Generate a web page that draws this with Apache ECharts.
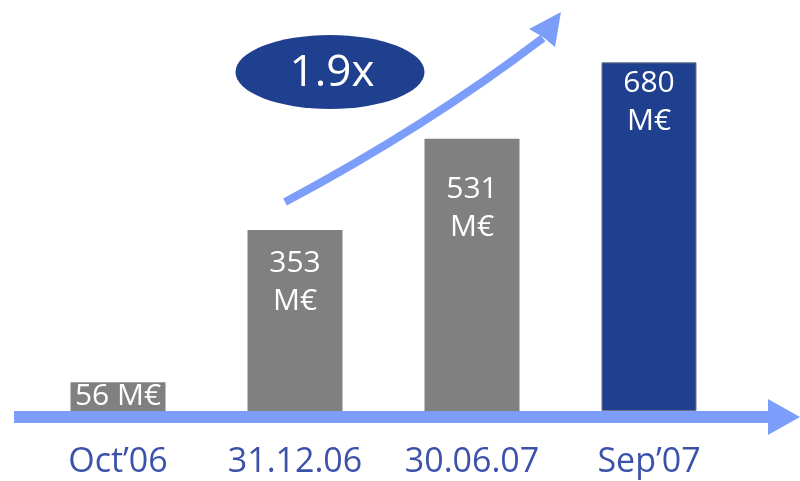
<!DOCTYPE html>
<html>
<head>
<meta charset="utf-8">
<script src="https://cdn.jsdelivr.net/npm/echarts@6/dist/echarts.min.js"></script>
<style>
  html, body { margin: 0; padding: 0; background: #ffffff; }
  #chart { width: 800px; height: 481px; }
</style>
</head>
<body>
<div id="chart"></div>
<script>
// Periods and assets (M€)
const categories = ['Oct’06', '31.12.06', '30.06.07', 'Sep’07'];
const values = [56, 353, 531, 680];
const unit = 'M€';
const growthLabel = '1.9x';

const FONT = '"Open Sans", "Liberation Sans", sans-serif';
const GREY = '#808080';
const NAVY = '#1F3F8F';
const SKY = '#7C9EFA';
const INK = '#3C51AA';

// Per-bar look: fill, how the value label is laid out
const barStyles = [
  { color: GREY, inline: true },
  { color: GREY, distance: 14 },
  { color: GREY, distance: 32 },
  { color: NAVY, distance: 2, border: '#6f7688' }
];

const chart = echarts.init(document.getElementById('chart'), null, { renderer: 'canvas' });

const seriesData = values.map((v, i) => {
  const s = barStyles[i];
  const item = {
    value: v,
    itemStyle: { color: s.color, borderColor: s.border || s.color, borderWidth: s.border ? 1 : 0 }
  };
  if (s.inline) {
    item.label = { position: 'inside', formatter: () => v + ' ' + unit, lineHeight: 30 };
  } else {
    item.label = { position: 'insideTop', distance: s.distance, formatter: () => v + '\n' + unit };
  }
  return item;
});

chart.setOption({
  backgroundColor: '#ffffff',
  animation: false,
  grid: { left: 29.5, right: 62.5, top: 11, bottom: 70 },
  xAxis: {
    type: 'category',
    data: categories,
    axisLine: { show: false },
    axisTick: { show: false },
    axisLabel: {
      color: INK,
      fontFamily: FONT,
      fontSize: 34,
      fontWeight: 500,
      lineHeight: 34,
      margin: 34
    }
  },
  yAxis: {
    type: 'value',
    min: 0,
    max: 780,
    show: false,
    splitLine: { show: false }
  },
  series: [{
    type: 'bar',
    data: seriesData,
    barWidth: 95,
    label: {
      show: true,
      color: '#ffffff',
      fontFamily: FONT,
      fontSize: 30,
      lineHeight: 38
    }
  }],
  graphic: [
    // time axis drawn as a wide arrow
    {
      type: 'rect',
      shape: { x: 14, y: 411, width: 756, height: 12 },
      style: { fill: SKY }
    },
    {
      type: 'polygon',
      shape: { points: [[768, 399], [800, 417], [768, 435]] },
      style: { fill: SKY }
    },
    // growth arrow
    {
      type: 'bezierCurve',
      shape: { x1: 285, y1: 202, cpx1: 426, cpy1: 127, x2: 543, y2: 38 },
      style: { stroke: SKY, lineWidth: 8, fill: null, lineCap: 'butt' }
    },
    {
      type: 'polygon',
      shape: { points: [[529, 29], [561, 12], [555, 47], [543, 37]] },
      style: { fill: SKY }
    },
    // growth multiple badge
    {
      type: 'circle',
      x: 330, y: 72,
      scaleX: 94.5 / 37, scaleY: 1,
      shape: { cx: 0, cy: 0, r: 37 },
      style: { fill: NAVY }
    },
    {
      type: 'text',
      x: 332, y: 73,
      style: {
        text: growthLabel,
        fill: '#ffffff',
        font: '44px ' + FONT,
        textAlign: 'center',
        textVerticalAlign: 'middle'
      }
    }
  ]
});
</script>
</body>
</html>
